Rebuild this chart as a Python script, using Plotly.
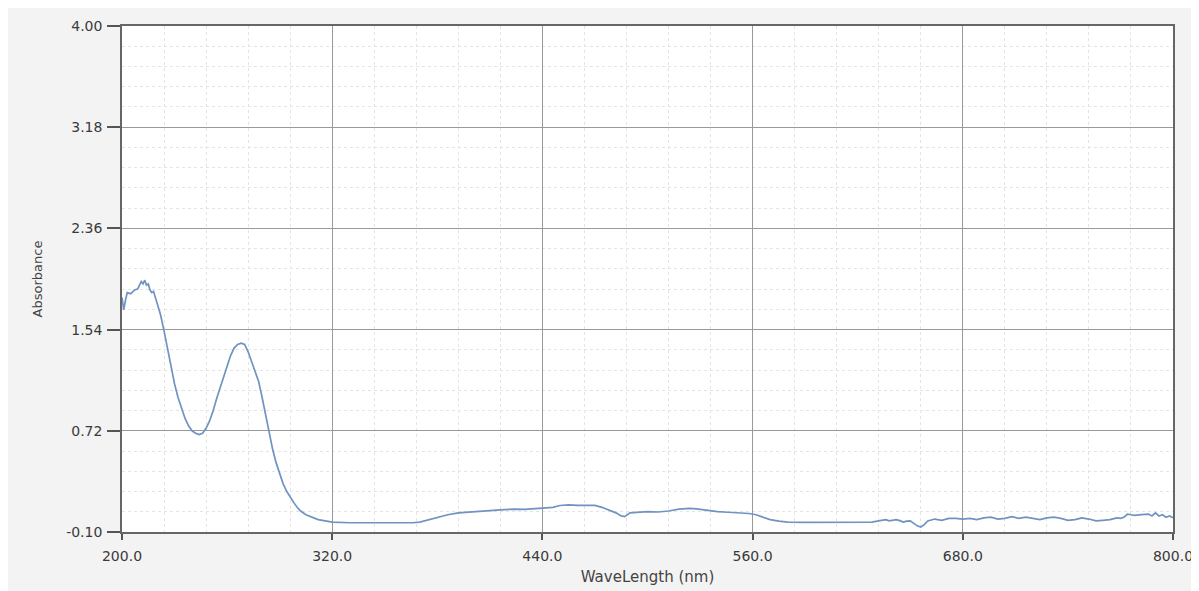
import plotly.graph_objects as go

wavelength = [200, 201, 202, 203, 205, 207, 209, 211, 212, 213, 214, 215, 216, 217, 218, 219, 220,
              222, 224, 226, 228, 230, 232, 234, 236, 238, 240, 242, 244, 246, 248, 250, 252, 254,
              256, 258, 260, 262, 264, 266, 268, 270, 272, 274, 276, 278, 280, 282, 284, 286, 288,
              290, 292, 294, 296, 298, 300, 302, 305, 308, 312, 316, 320, 330, 340, 350, 360, 366,
              370, 375, 380, 386, 392, 400, 408, 416, 424, 430, 436, 442, 446, 450, 455, 460, 465,
              470, 474, 478, 482, 485, 487, 490, 494, 500, 506, 512, 518, 524, 528, 534, 540, 546,
              552, 558, 562, 566, 570, 575, 580, 590, 600, 610, 620, 628, 632, 634, 636, 638, 640,
              642, 644, 646, 648, 650, 652, 654, 656, 658, 660, 662, 664, 668, 672, 676, 680, 684,
              688, 692, 696, 700, 704, 708, 712, 716, 720, 724, 728, 732, 736, 740, 744, 748, 752,
              756, 760, 764, 768, 770, 772, 774, 776, 778, 782, 786, 788, 790, 792, 794, 796, 798, 800]
absorbance = [1.80, 1.70, 1.78, 1.84, 1.83, 1.86, 1.87, 1.93, 1.91, 1.94, 1.90, 1.91, 1.86, 1.84, 1.85, 1.80, 1.76,
              1.66, 1.53, 1.38, 1.23, 1.10, 0.99, 0.90, 0.82, 0.76, 0.72, 0.70, 0.69, 0.70, 0.74, 0.80, 0.88, 0.98,
              1.07, 1.16, 1.25, 1.33, 1.39, 1.42, 1.43, 1.42, 1.36, 1.28, 1.21, 1.12, 0.99, 0.84, 0.70, 0.57, 0.46,
              0.37, 0.29, 0.23, 0.18, 0.14, 0.10, 0.07, 0.04, 0.02, 0.00, -0.01, -0.02, -0.025, -0.025, -0.028, -0.027, -0.025,
              -0.02, 0.00, 0.02, 0.04, 0.055, 0.065, 0.075, 0.08, 0.085, 0.083, 0.09, 0.095, 0.10, 0.115, 0.12, 0.115, 0.112,
              0.115, 0.10, 0.08, 0.055, 0.03, 0.025, 0.055, 0.06, 0.065, 0.062, 0.07, 0.085, 0.092, 0.088, 0.075, 0.065, 0.06,
              0.058, 0.05, 0.04, 0.02, 0.00, -0.012, -0.02, -0.022, -0.022, -0.022, -0.022, -0.02, -0.01, -0.005, 0.0, -0.01, -0.005,
              0.0, -0.008, -0.02, -0.012, -0.01, -0.03, -0.05, -0.06, -0.04, -0.01, 0.0, 0.005, -0.005, 0.01, 0.01, 0.005, 0.01,
              0.0, 0.015, 0.02, 0.005, 0.01, 0.025, 0.01, 0.02, 0.01, 0.0, 0.015, 0.02, 0.01, -0.005, 0.0, 0.015, 0.005,
              -0.01, -0.005, 0.0, 0.015, 0.01, 0.02, 0.045, 0.04, 0.035, 0.04, 0.045, 0.03, 0.055, 0.03, 0.04, 0.02, 0.03, 0.015]

x_ticks = [200, 320, 440, 560, 680, 800]
x_tick_labels = ["200.0", "320.0", "440.0", "560.0", "680.0", "800.0"]
y_ticks = [-0.10, 0.72, 1.54, 2.36, 3.18, 4.00]
y_tick_labels = ["-0.10", "0.72", "1.54", "2.36", "3.18", "4.00"]

FONT = "DejaVu Sans, Verdana, sans-serif"

fig = go.Figure()
fig.add_trace(go.Scatter(x=wavelength, y=absorbance, mode="lines",
                         line=dict(color="#6f93c2", width=1.7), showlegend=False))

axis_common = dict(
    showline=True, linecolor="#666666", linewidth=1.6, mirror=True,
    ticks="outside", tickcolor="#555555", tickwidth=1.6,
    showgrid=True, gridcolor="#999999", gridwidth=1,
    zeroline=False, automargin=False, ticklabeloverflow="allow",
    tickfont=dict(family=FONT, size=14, color="#3a3a3a"),
)

fig.update_xaxes(
    range=[200, 800], tickmode="array", tickvals=x_ticks, ticktext=x_tick_labels,
    ticklen=6, ticklabelstandoff=4,
    title=dict(text="WaveLength (nm)", font=dict(family=FONT, size=15, color="#444444"), standoff=9),
    minor=dict(tick0=200, dtick=24, showgrid=True, gridcolor="#e4e4e4", griddash="dot", gridwidth=1),
    **axis_common,
)
fig.update_yaxes(
    range=[-0.10, 4.00], tickmode="array", tickvals=y_ticks, ticktext=y_tick_labels,
    ticklen=13, ticklabelstandoff=2,
    title=dict(text="Absorbance", font=dict(family=FONT, size=13, color="#444444"), standoff=21),
    minor=dict(tick0=-0.10, dtick=0.164, showgrid=True, gridcolor="#e4e4e4", griddash="dot", gridwidth=1),
    **axis_common,
)

fig.update_layout(
    width=1191, height=583,
    margin=dict(l=114, r=26, t=18, b=59),
    paper_bgcolor="#f3f3f3", plot_bgcolor="#ffffff",
)

fig.write_html("out.html")
